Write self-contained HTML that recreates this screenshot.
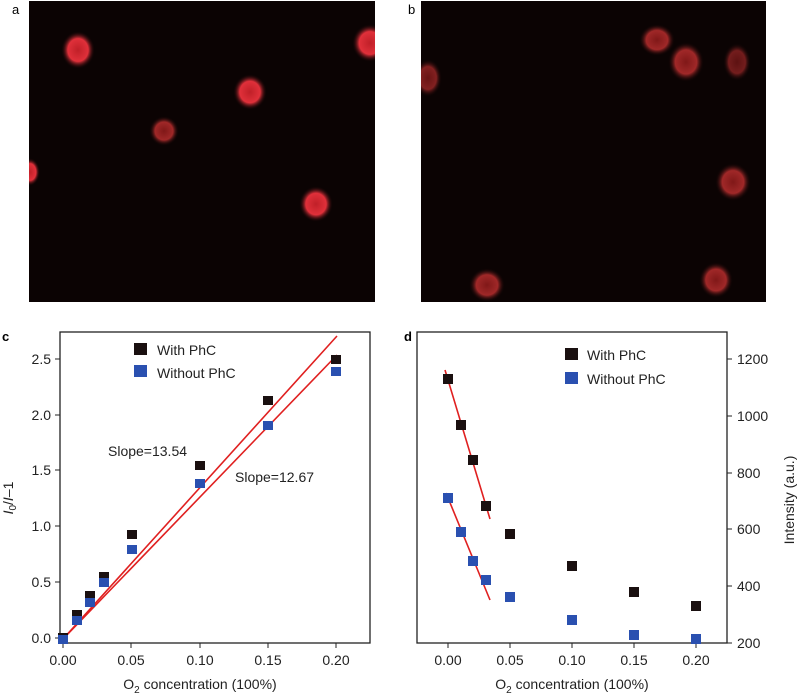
<!DOCTYPE html>
<html><head><style>body{margin:0;background:#fff}svg{display:block}</style></head><body>
<svg width="800" height="697" xmlns="http://www.w3.org/2000/svg" font-family="Liberation Sans, sans-serif">
<defs>
<radialGradient id="c1"><stop offset="0" stop-color="#c02028"/><stop offset="0.6" stop-color="#e0303a"/><stop offset="1" stop-color="#0a0303" stop-opacity="0"/></radialGradient>
<radialGradient id="c2"><stop offset="0" stop-color="#801818"/><stop offset="0.6" stop-color="#a02828"/><stop offset="1" stop-color="#0a0303" stop-opacity="0"/></radialGradient>
<clipPath id="ca"><rect x="29" y="1" width="346" height="301"/></clipPath>
<clipPath id="cb"><rect x="421" y="1" width="345" height="301"/></clipPath>
</defs>
<text x="12" y="14" font-size="13">a</text>
<text x="408" y="14" font-size="13">b</text>
<rect x="29" y="1" width="346" height="301" fill="#0b0303"/>
<g clip-path="url(#ca)">
<ellipse cx="78" cy="50" rx="17" ry="19" fill="url(#c1)"/>
<ellipse cx="370" cy="43" rx="18" ry="19" fill="url(#c1)"/>
<ellipse cx="250" cy="92" rx="17" ry="18" fill="url(#c1)"/>
<ellipse cx="164" cy="131" rx="15" ry="15" fill="url(#c2)"/>
<ellipse cx="30" cy="172" rx="10" ry="14" fill="url(#c1)"/>
<ellipse cx="316" cy="204" rx="17" ry="18" fill="url(#c1)"/>
</g>
<rect x="421" y="1" width="345" height="301" fill="#0b0303"/>
<g clip-path="url(#cb)">
<ellipse cx="657" cy="40" rx="18" ry="16" fill="url(#c2)"/>
<ellipse cx="686" cy="62" rx="18" ry="20" fill="url(#c2)"/>
<ellipse cx="737" cy="62" rx="14" ry="19" fill="url(#c2)" opacity="0.7"/>
<ellipse cx="428" cy="78" rx="14" ry="19" fill="url(#c2)" opacity="0.8"/>
<ellipse cx="733" cy="182" rx="18" ry="19" fill="url(#c2)"/>
<ellipse cx="487" cy="285" rx="18" ry="17" fill="url(#c2)"/>
<ellipse cx="716" cy="280" rx="17" ry="18" fill="url(#c2)"/>
</g>

<!-- panel c -->
<text x="2" y="341" font-size="13" font-weight="bold">c</text>
<rect x="60" y="332" width="310" height="311" fill="none" stroke="#222" stroke-width="1.3"/>
<g stroke="#222" stroke-width="1">
<line x1="63" y1="643" x2="63" y2="648"/><line x1="131" y1="643" x2="131" y2="648"/><line x1="200" y1="643" x2="200" y2="648"/><line x1="268" y1="643" x2="268" y2="648"/><line x1="336" y1="643" x2="336" y2="648"/>
<line x1="55" y1="638" x2="60" y2="638"/><line x1="55" y1="582" x2="60" y2="582"/><line x1="55" y1="526" x2="60" y2="526"/><line x1="55" y1="470" x2="60" y2="470"/><line x1="55" y1="415" x2="60" y2="415"/><line x1="55" y1="359" x2="60" y2="359"/>
</g>
<g font-size="14" fill="#222" text-anchor="end">
<text x="51" y="643">0.0</text><text x="51" y="587">0.5</text><text x="51" y="531">1.0</text><text x="51" y="475">1.5</text><text x="51" y="420">2.0</text><text x="51" y="364">2.5</text>
</g>
<g font-size="14" fill="#222" text-anchor="middle">
<text x="63" y="665">0.00</text><text x="131" y="665">0.05</text><text x="200" y="665">0.10</text><text x="268" y="665">0.15</text><text x="336" y="665">0.20</text>
<text x="200" y="689">O<tspan font-size="10" dy="4">2</tspan><tspan dy="-4"> concentration (100%)</tspan></text>
</g>
<text transform="translate(13,498) rotate(-90)" font-size="14" fill="#222" text-anchor="middle"><tspan font-style="italic">I</tspan><tspan font-size="10" dy="3">0</tspan><tspan dy="-3">/</tspan><tspan font-style="italic">I</tspan>–1</text>
<line x1="63" y1="639" x2="337" y2="336" stroke="#e02020" stroke-width="1.6"/>
<line x1="63" y1="639" x2="337" y2="355" stroke="#e02020" stroke-width="1.6"/>
<g fill="#1a1010">
<rect x="58" y="633" width="10" height="9"/><rect x="72" y="610" width="10" height="9"/><rect x="85" y="591" width="10" height="9"/><rect x="99" y="572" width="10" height="9"/><rect x="127" y="530" width="10" height="9"/><rect x="195" y="461" width="10" height="9"/><rect x="263" y="396" width="10" height="9"/><rect x="331" y="355" width="10" height="9"/>
</g>
<g fill="#2a50b0">
<rect x="58" y="635" width="10" height="9"/><rect x="72" y="616" width="10" height="9"/><rect x="85" y="598" width="10" height="9"/><rect x="99" y="578" width="10" height="9"/><rect x="127" y="545" width="10" height="9"/><rect x="195" y="479" width="10" height="9"/><rect x="263" y="421" width="10" height="9"/><rect x="331" y="367" width="10" height="9"/>
</g>
<rect x="134" y="343" width="13" height="12" fill="#1a1010"/>
<text x="157" y="355" font-size="14" fill="#222">With PhC</text>
<rect x="134" y="365" width="13" height="12" fill="#2a50b0"/>
<text x="157" y="378" font-size="14" fill="#222">Without PhC</text>
<text x="108" y="456" font-size="14" fill="#222">Slope=13.54</text>
<text x="235" y="482" font-size="14" fill="#222">Slope=12.67</text>

<!-- panel d -->
<text x="404" y="341" font-size="13" font-weight="bold">d</text>
<rect x="417" y="332" width="310" height="311" fill="none" stroke="#222" stroke-width="1.3"/>
<g stroke="#222" stroke-width="1">
<line x1="448" y1="643" x2="448" y2="648"/><line x1="510" y1="643" x2="510" y2="648"/><line x1="572" y1="643" x2="572" y2="648"/><line x1="634" y1="643" x2="634" y2="648"/><line x1="696" y1="643" x2="696" y2="648"/>
<line x1="727" y1="643" x2="732" y2="643"/><line x1="727" y1="586" x2="732" y2="586"/><line x1="727" y1="529" x2="732" y2="529"/><line x1="727" y1="473" x2="732" y2="473"/><line x1="727" y1="416" x2="732" y2="416"/><line x1="727" y1="359" x2="732" y2="359"/>
</g>
<g font-size="14" fill="#222">
<text x="737" y="648">200</text><text x="737" y="591">400</text><text x="737" y="534">600</text><text x="737" y="478">800</text><text x="737" y="421">1000</text><text x="737" y="364">1200</text>
</g>
<g font-size="14" fill="#222" text-anchor="middle">
<text x="448" y="665">0.00</text><text x="510" y="665">0.05</text><text x="572" y="665">0.10</text><text x="634" y="665">0.15</text><text x="696" y="665">0.20</text>
<text x="572" y="689">O<tspan font-size="10" dy="4">2</tspan><tspan dy="-4"> concentration (100%)</tspan></text>
</g>
<text transform="translate(794,500) rotate(-90)" font-size="14" fill="#222" text-anchor="middle">Intensity (a.u.)</text>
<line x1="445" y1="370" x2="490" y2="519" stroke="#e02020" stroke-width="1.6"/>
<line x1="446" y1="493" x2="490" y2="600" stroke="#e02020" stroke-width="1.6"/>
<g fill="#1a1010">
<rect x="443" y="374" width="10" height="10"/><rect x="456" y="420" width="10" height="10"/><rect x="468" y="455" width="10" height="10"/><rect x="481" y="501" width="10" height="10"/><rect x="505" y="529" width="10" height="10"/><rect x="567" y="561" width="10" height="10"/><rect x="629" y="587" width="10" height="10"/><rect x="691" y="601" width="10" height="10"/>
</g>
<g fill="#2a50b0">
<rect x="443" y="493" width="10" height="10"/><rect x="456" y="527" width="10" height="10"/><rect x="468" y="556" width="10" height="10"/><rect x="481" y="575" width="10" height="10"/><rect x="505" y="592" width="10" height="10"/><rect x="567" y="615" width="10" height="10"/><rect x="629" y="630" width="10" height="10"/><rect x="691" y="634" width="10" height="10"/>
</g>
<rect x="565" y="348" width="13" height="12" fill="#1a1010"/>
<text x="587" y="360" font-size="14" fill="#222">With PhC</text>
<rect x="565" y="372" width="13" height="12" fill="#2a50b0"/>
<text x="587" y="384" font-size="14" fill="#222">Without PhC</text>
</svg>
</body></html>
